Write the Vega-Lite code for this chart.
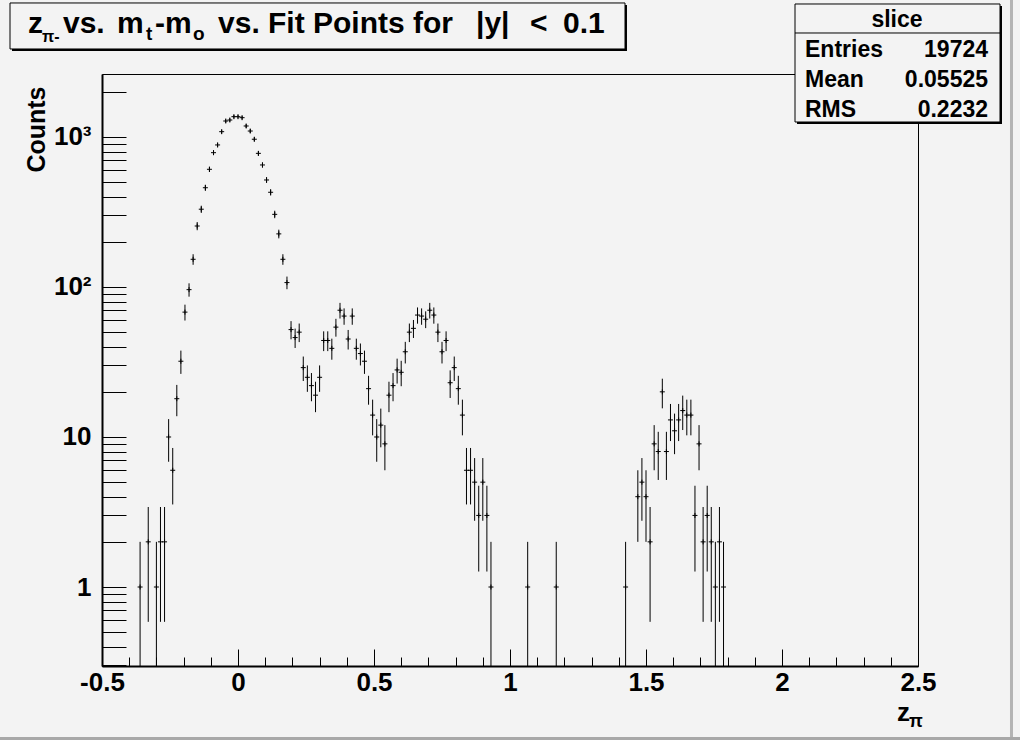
{
"$schema":"https://vega.github.io/schema/vega-lite/v6.json",
"width":816,"height":592,
"autosize":{"type":"none"},
"padding":{"left":102,"top":74,"right":102,"bottom":74},
"background":"#f3f3f3",
"config":{"view":{"stroke":"#000000","strokeWidth":1,"fill":"#f3f3f3"},"font":"Liberation Sans"},
"resolve":{"axis":{"x":"independent"}},
"data":{"values":[
{"x":-0.36,"n":1},{"x":-0.33,"n":2},{"x":-0.3,"n":1},{"x":-0.285,"n":2},{"x":-0.27,"n":2},
{"x":-0.255,"n":10},{"x":-0.24,"n":6},{"x":-0.225,"n":18},{"x":-0.21,"n":32},{"x":-0.195,"n":68},
{"x":-0.18,"n":96},{"x":-0.165,"n":153},{"x":-0.15,"n":255},{"x":-0.135,"n":330},{"x":-0.12,"n":459},
{"x":-0.105,"n":609},{"x":-0.09,"n":786},{"x":-0.075,"n":885},{"x":-0.06,"n":1085},{"x":-0.045,"n":1278},
{"x":-0.03,"n":1298},{"x":-0.015,"n":1366},{"x":0,"n":1366},{"x":0.015,"n":1345},{"x":0.03,"n":1184},
{"x":0.045,"n":1096},{"x":0.06,"n":966},{"x":0.075,"n":778},{"x":0.09,"n":651},{"x":0.105,"n":517},
{"x":0.12,"n":428},{"x":0.135,"n":305},{"x":0.15,"n":226},{"x":0.165,"n":153},{"x":0.18,"n":107},
{"x":0.195,"n":52},{"x":0.21,"n":46},{"x":0.225,"n":50},{"x":0.24,"n":29},{"x":0.255,"n":25},
{"x":0.27,"n":22},{"x":0.285,"n":19},{"x":0.3,"n":25},{"x":0.315,"n":44},{"x":0.33,"n":44},
{"x":0.345,"n":39},{"x":0.36,"n":54},{"x":0.375,"n":70},{"x":0.39,"n":64},{"x":0.405,"n":45},
{"x":0.42,"n":64},{"x":0.435,"n":39},{"x":0.45,"n":36},{"x":0.465,"n":32},{"x":0.48,"n":21},
{"x":0.495,"n":14},{"x":0.51,"n":10},{"x":0.525,"n":12},{"x":0.54,"n":9},{"x":0.555,"n":19},
{"x":0.57,"n":22},{"x":0.585,"n":28},{"x":0.6,"n":27},{"x":0.615,"n":37},{"x":0.63,"n":50},
{"x":0.645,"n":53},{"x":0.66,"n":65},{"x":0.675,"n":64},{"x":0.69,"n":61},{"x":0.705,"n":70},
{"x":0.72,"n":65},{"x":0.735,"n":50},{"x":0.75,"n":37},{"x":0.765,"n":44},{"x":0.78,"n":23},
{"x":0.795,"n":29},{"x":0.81,"n":21},{"x":0.825,"n":14},{"x":0.84,"n":6},{"x":0.855,"n":6},
{"x":0.87,"n":5},{"x":0.885,"n":3},{"x":0.9,"n":5},{"x":0.915,"n":3},{"x":0.93,"n":1},
{"x":1.065,"n":1},{"x":1.17,"n":1},{"x":1.425,"n":1},
{"x":1.47,"n":4},{"x":1.485,"n":5},{"x":1.5,"n":4},{"x":1.515,"n":2},{"x":1.53,"n":9},
{"x":1.545,"n":8},{"x":1.56,"n":20},{"x":1.575,"n":8},{"x":1.59,"n":13},{"x":1.605,"n":11},
{"x":1.62,"n":13},{"x":1.635,"n":15},{"x":1.65,"n":14},{"x":1.665,"n":14},{"x":1.68,"n":3},
{"x":1.695,"n":9},{"x":1.71,"n":2},{"x":1.725,"n":3},{"x":1.74,"n":2},{"x":1.755,"n":1},
{"x":1.77,"n":2},{"x":1.785,"n":1}
]},
"layer":[
{"transform":[{"calculate":"datum.n + sqrt(datum.n)","as":"hi"},{"calculate":"max(datum.n - sqrt(datum.n), 0.29)","as":"lo"}],
 "mark":{"type":"rule","color":"#000000","strokeWidth":1,"clip":true},
 "encoding":{
  "x":{"field":"x","type":"quantitative","scale":{"domain":[-0.5,2.5],"nice":false,"zero":false},
   "axis":{"orient":"bottom","values":[-0.5,0,0.5,1,1.5,2,2.5],
    "title":null,"grid":false,"domainColor":"#000000","domainWidth":2,"tickColor":"#000000","tickWidth":1,
    "tickSize":-17,
    "labelExpr":"''+datum.value",
    "labelFont":"Liberation Sans","labelFontWeight":"bold","labelFontSize":26,"labelColor":"#000000",
    "labelPadding":20,"labelFlush":false,"labelOverlap":false,"labelBound":false,"labelBaseline":"top"}},
  "y":{"field":"lo","type":"quantitative","scale":{"type":"log","domain":[0.2974,2630],"nice":false},
   "axis":{"values":[0.3,0.4,0.5,0.6,0.7,0.8,0.9,1,2,3,4,5,6,7,8,9,10,20,30,40,50,60,70,80,90,100,200,300,400,500,600,700,800,900,1000,2000],
    "title":"Counts","titleFont":"Liberation Sans","titleFontWeight":"bold","titleFontSize":25,"titleColor":"#000000",
    "titleAngle":-90,"titleAlign":"right","titleBaseline":"middle","titleX":-66,"titleY":12,
    "grid":false,"domainColor":"#000000","domainWidth":2,"tickColor":"#000000","tickWidth":1,
    "tickSize":-24,
    "encode":{"ticks":{"update":{"x2":{"signal":"(datum.value==1||datum.value==10||datum.value==100||datum.value==1000) ? 24 : 12"}}}},
    "labelExpr":"datum.value==1000?'10³':datum.value==100?'10²':datum.value==10?'10':datum.value==1?'1':''",
    "labelFont":"Liberation Sans","labelFontWeight":"bold","labelFontSize":26,"labelColor":"#000000",
    "labelPadding":35,"labelFlush":false,"labelOverlap":false,"labelBound":false}},
  "y2":{"field":"hi"}}},
{"mark":{"type":"point","shape":"M-1,0H1M0,-1V1","size":25,"filled":false,"stroke":"#000000","strokeWidth":1,"opacity":1,"clip":true},
 "encoding":{"x":{"field":"x","type":"quantitative",
   "axis":{"orient":"bottom","values":[-0.4,-0.3,-0.2,-0.1,0.1,0.2,0.3,0.4,0.6,0.7,0.8,0.9,1.1,1.2,1.3,1.4,1.6,1.7,1.8,1.9,2.1,2.2,2.3,2.4],
    "title":null,"grid":false,"domain":false,"labels":false,"tickColor":"#000000","tickWidth":1,"tickSize":-9}},
  "y":{"field":"n","type":"quantitative"}}},
{"data":{"values":[{}]},"mark":{"type":"rect","color":"#b4b4b4"},
 "encoding":{"x":{"datum":2.8382,"type":"quantitative","axis":null},"x2":{"datum":2.8493},"y":{"datum":0.0955,"type":"quantitative"},"y2":{"datum":8190}}},
{"data":{"values":[{}]},"mark":{"type":"rect","color":"#a8a8a8"},
 "encoding":{"x":{"datum":-0.875,"type":"quantitative","axis":null},"x2":{"datum":2.875},"y":{"datum":0.0955,"type":"quantitative"},"y2":{"datum":0.1}}},
{"data":{"values":[{}]},"mark":{"type":"rect","color":"#000000"},
 "encoding":{"x":{"datum":-0.8309,"type":"quantitative","axis":null},"x2":{"datum":1.4301},"y":{"datum":3745,"type":"quantitative"},"y2":{"datum":7586}}},
{"data":{"values":[{}]},"mark":{"type":"rect","fill":"#f3f3f3","stroke":"#000000","strokeWidth":1},
 "encoding":{"x":{"datum":-0.8382,"type":"quantitative","axis":null},"x2":{"datum":1.4228},"y":{"datum":3862,"type":"quantitative"},"y2":{"datum":7824}}},
{"data":{"values":[{}]},"mark":{"type":"text","text":"z","font":"Liberation Sans","fontWeight":"bold","fontSize":30,"align":"left","baseline":"alphabetic","color":"#000000"},
 "encoding":{"x":{"datum":-0.7721,"type":"quantitative","axis":null},"y":{"datum":4935,"type":"quantitative"}}},
{"data":{"values":[{}]},"mark":{"type":"text","text":"π-","font":"Liberation Sans","fontWeight":"bold","fontSize":16,"align":"left","baseline":"alphabetic","color":"#000000"},
 "encoding":{"x":{"datum":-0.7206,"type":"quantitative","axis":null},"y":{"datum":4298,"type":"quantitative"}}},
{"data":{"values":[{}]},"mark":{"type":"text","text":"vs.","font":"Liberation Sans","fontWeight":"bold","fontSize":30,"align":"left","baseline":"alphabetic","color":"#000000"},
 "encoding":{"x":{"datum":-0.6434,"type":"quantitative","axis":null},"y":{"datum":4935,"type":"quantitative"}}},
{"data":{"values":[{}]},"mark":{"type":"text","text":"m","font":"Liberation Sans","fontWeight":"bold","fontSize":30,"align":"left","baseline":"alphabetic","color":"#000000"},
 "encoding":{"x":{"datum":-0.4449,"type":"quantitative","axis":null},"y":{"datum":4935,"type":"quantitative"}}},
{"data":{"values":[{}]},"mark":{"type":"text","text":"t","font":"Liberation Sans","fontWeight":"bold","fontSize":19,"align":"left","baseline":"alphabetic","color":"#000000"},
 "encoding":{"x":{"datum":-0.3382,"type":"quantitative","axis":null},"y":{"datum":4433,"type":"quantitative"}}},
{"data":{"values":[{}]},"mark":{"type":"text","text":"-m","font":"Liberation Sans","fontWeight":"bold","fontSize":30,"align":"left","baseline":"alphabetic","color":"#000000"},
 "encoding":{"x":{"datum":-0.3051,"type":"quantitative","axis":null},"y":{"datum":4935,"type":"quantitative"}}},
{"data":{"values":[{}]},"mark":{"type":"text","text":"o","font":"Liberation Sans","fontWeight":"bold","fontSize":19,"align":"left","baseline":"alphabetic","color":"#000000"},
 "encoding":{"x":{"datum":-0.1654,"type":"quantitative","axis":null},"y":{"datum":4433,"type":"quantitative"}}},
{"data":{"values":[{}]},"mark":{"type":"text","text":"vs. Fit Points for","font":"Liberation Sans","fontWeight":"bold","fontSize":30,"align":"left","baseline":"alphabetic","color":"#000000"},
 "encoding":{"x":{"datum":-0.0735,"type":"quantitative","axis":null},"y":{"datum":4935,"type":"quantitative"}}},
{"data":{"values":[{}]},"mark":{"type":"text","text":"|y|","font":"Liberation Sans","fontWeight":"bold","fontSize":30,"align":"left","baseline":"alphabetic","color":"#000000"},
 "encoding":{"x":{"datum":0.875,"type":"quantitative","axis":null},"y":{"datum":4935,"type":"quantitative"}}},
{"data":{"values":[{}]},"mark":{"type":"text","text":"<","font":"Liberation Sans","fontWeight":"bold","fontSize":30,"align":"left","baseline":"alphabetic","color":"#000000"},
 "encoding":{"x":{"datum":1.0735,"type":"quantitative","axis":null},"y":{"datum":4935,"type":"quantitative"}}},
{"data":{"values":[{}]},"mark":{"type":"text","text":"0.1","font":"Liberation Sans","fontWeight":"bold","fontSize":30,"align":"left","baseline":"alphabetic","color":"#000000"},
 "encoding":{"x":{"datum":1.1949,"type":"quantitative","axis":null},"y":{"datum":4935,"type":"quantitative"}}},
{"data":{"values":[{}]},"mark":{"type":"rect","color":"#000000"},
 "encoding":{"x":{"datum":2.0551,"type":"quantitative","axis":null},"x2":{"datum":2.8088},"y":{"datum":1221,"type":"quantitative"},"y2":{"datum":7469}}},
{"data":{"values":[{}]},"mark":{"type":"rect","fill":"#f3f3f3","stroke":"#000000","strokeWidth":1},
 "encoding":{"x":{"datum":2.0478,"type":"quantitative","axis":null},"x2":{"datum":2.8015},"y":{"datum":1259,"type":"quantitative"},"y2":{"datum":7704}}},
{"data":{"values":[{}]},"mark":{"type":"rule","color":"#000000","strokeWidth":1},
 "encoding":{"x":{"datum":2.0478,"type":"quantitative","axis":null},"x2":{"datum":2.8015},"y":{"datum":4935,"type":"quantitative"}}},
{"data":{"values":[{}]},"mark":{"type":"text","text":"slice","font":"Liberation Sans","fontWeight":"bold","fontSize":23,"align":"center","baseline":"alphabetic","color":"#000000"},
 "encoding":{"x":{"datum":2.4228,"type":"quantitative","axis":null},"y":{"datum":5412,"type":"quantitative"}}},
{"data":{"values":[{}]},"mark":{"type":"text","text":"Entries","font":"Liberation Sans","fontWeight":"bold","fontSize":23,"align":"left","baseline":"alphabetic","color":"#000000"},
 "encoding":{"x":{"datum":2.0846,"type":"quantitative","axis":null},"y":{"datum":3415,"type":"quantitative"}}},
{"data":{"values":[{}]},"mark":{"type":"text","text":"19724","font":"Liberation Sans","fontWeight":"bold","fontSize":23,"align":"right","baseline":"alphabetic","color":"#000000"},
 "encoding":{"x":{"datum":2.7574,"type":"quantitative","axis":null},"y":{"datum":3415,"type":"quantitative"}}},
{"data":{"values":[{}]},"mark":{"type":"text","text":"Mean","font":"Liberation Sans","fontWeight":"bold","fontSize":23,"align":"left","baseline":"alphabetic","color":"#000000"},
 "encoding":{"x":{"datum":2.0846,"type":"quantitative","axis":null},"y":{"datum":2164,"type":"quantitative"}}},
{"data":{"values":[{}]},"mark":{"type":"text","text":"0.05525","font":"Liberation Sans","fontWeight":"bold","fontSize":23,"align":"right","baseline":"alphabetic","color":"#000000"},
 "encoding":{"x":{"datum":2.7574,"type":"quantitative","axis":null},"y":{"datum":2164,"type":"quantitative"}}},
{"data":{"values":[{}]},"mark":{"type":"text","text":"RMS","font":"Liberation Sans","fontWeight":"bold","fontSize":23,"align":"left","baseline":"alphabetic","color":"#000000"},
 "encoding":{"x":{"datum":2.0846,"type":"quantitative","axis":null},"y":{"datum":1366,"type":"quantitative"}}},
{"data":{"values":[{}]},"mark":{"type":"text","text":"0.2232","font":"Liberation Sans","fontWeight":"bold","fontSize":23,"align":"right","baseline":"alphabetic","color":"#000000"},
 "encoding":{"x":{"datum":2.7574,"type":"quantitative","axis":null},"y":{"datum":1366,"type":"quantitative"}}},
{"data":{"values":[{}]},"mark":{"type":"text","text":"z","font":"Liberation Sans","fontWeight":"bold","fontSize":26,"align":"left","baseline":"alphabetic","color":"#000000"},
 "encoding":{"x":{"datum":2.4228,"type":"quantitative","axis":null},"y":{"datum":0.1278,"type":"quantitative"}}},
{"data":{"values":[{}]},"mark":{"type":"text","text":"π","font":"Liberation Sans","fontWeight":"bold","fontSize":18,"align":"left","baseline":"alphabetic","color":"#000000"},
 "encoding":{"x":{"datum":2.4669,"type":"quantitative","axis":null},"y":{"datum":0.1166,"type":"quantitative"}}}
]
}
